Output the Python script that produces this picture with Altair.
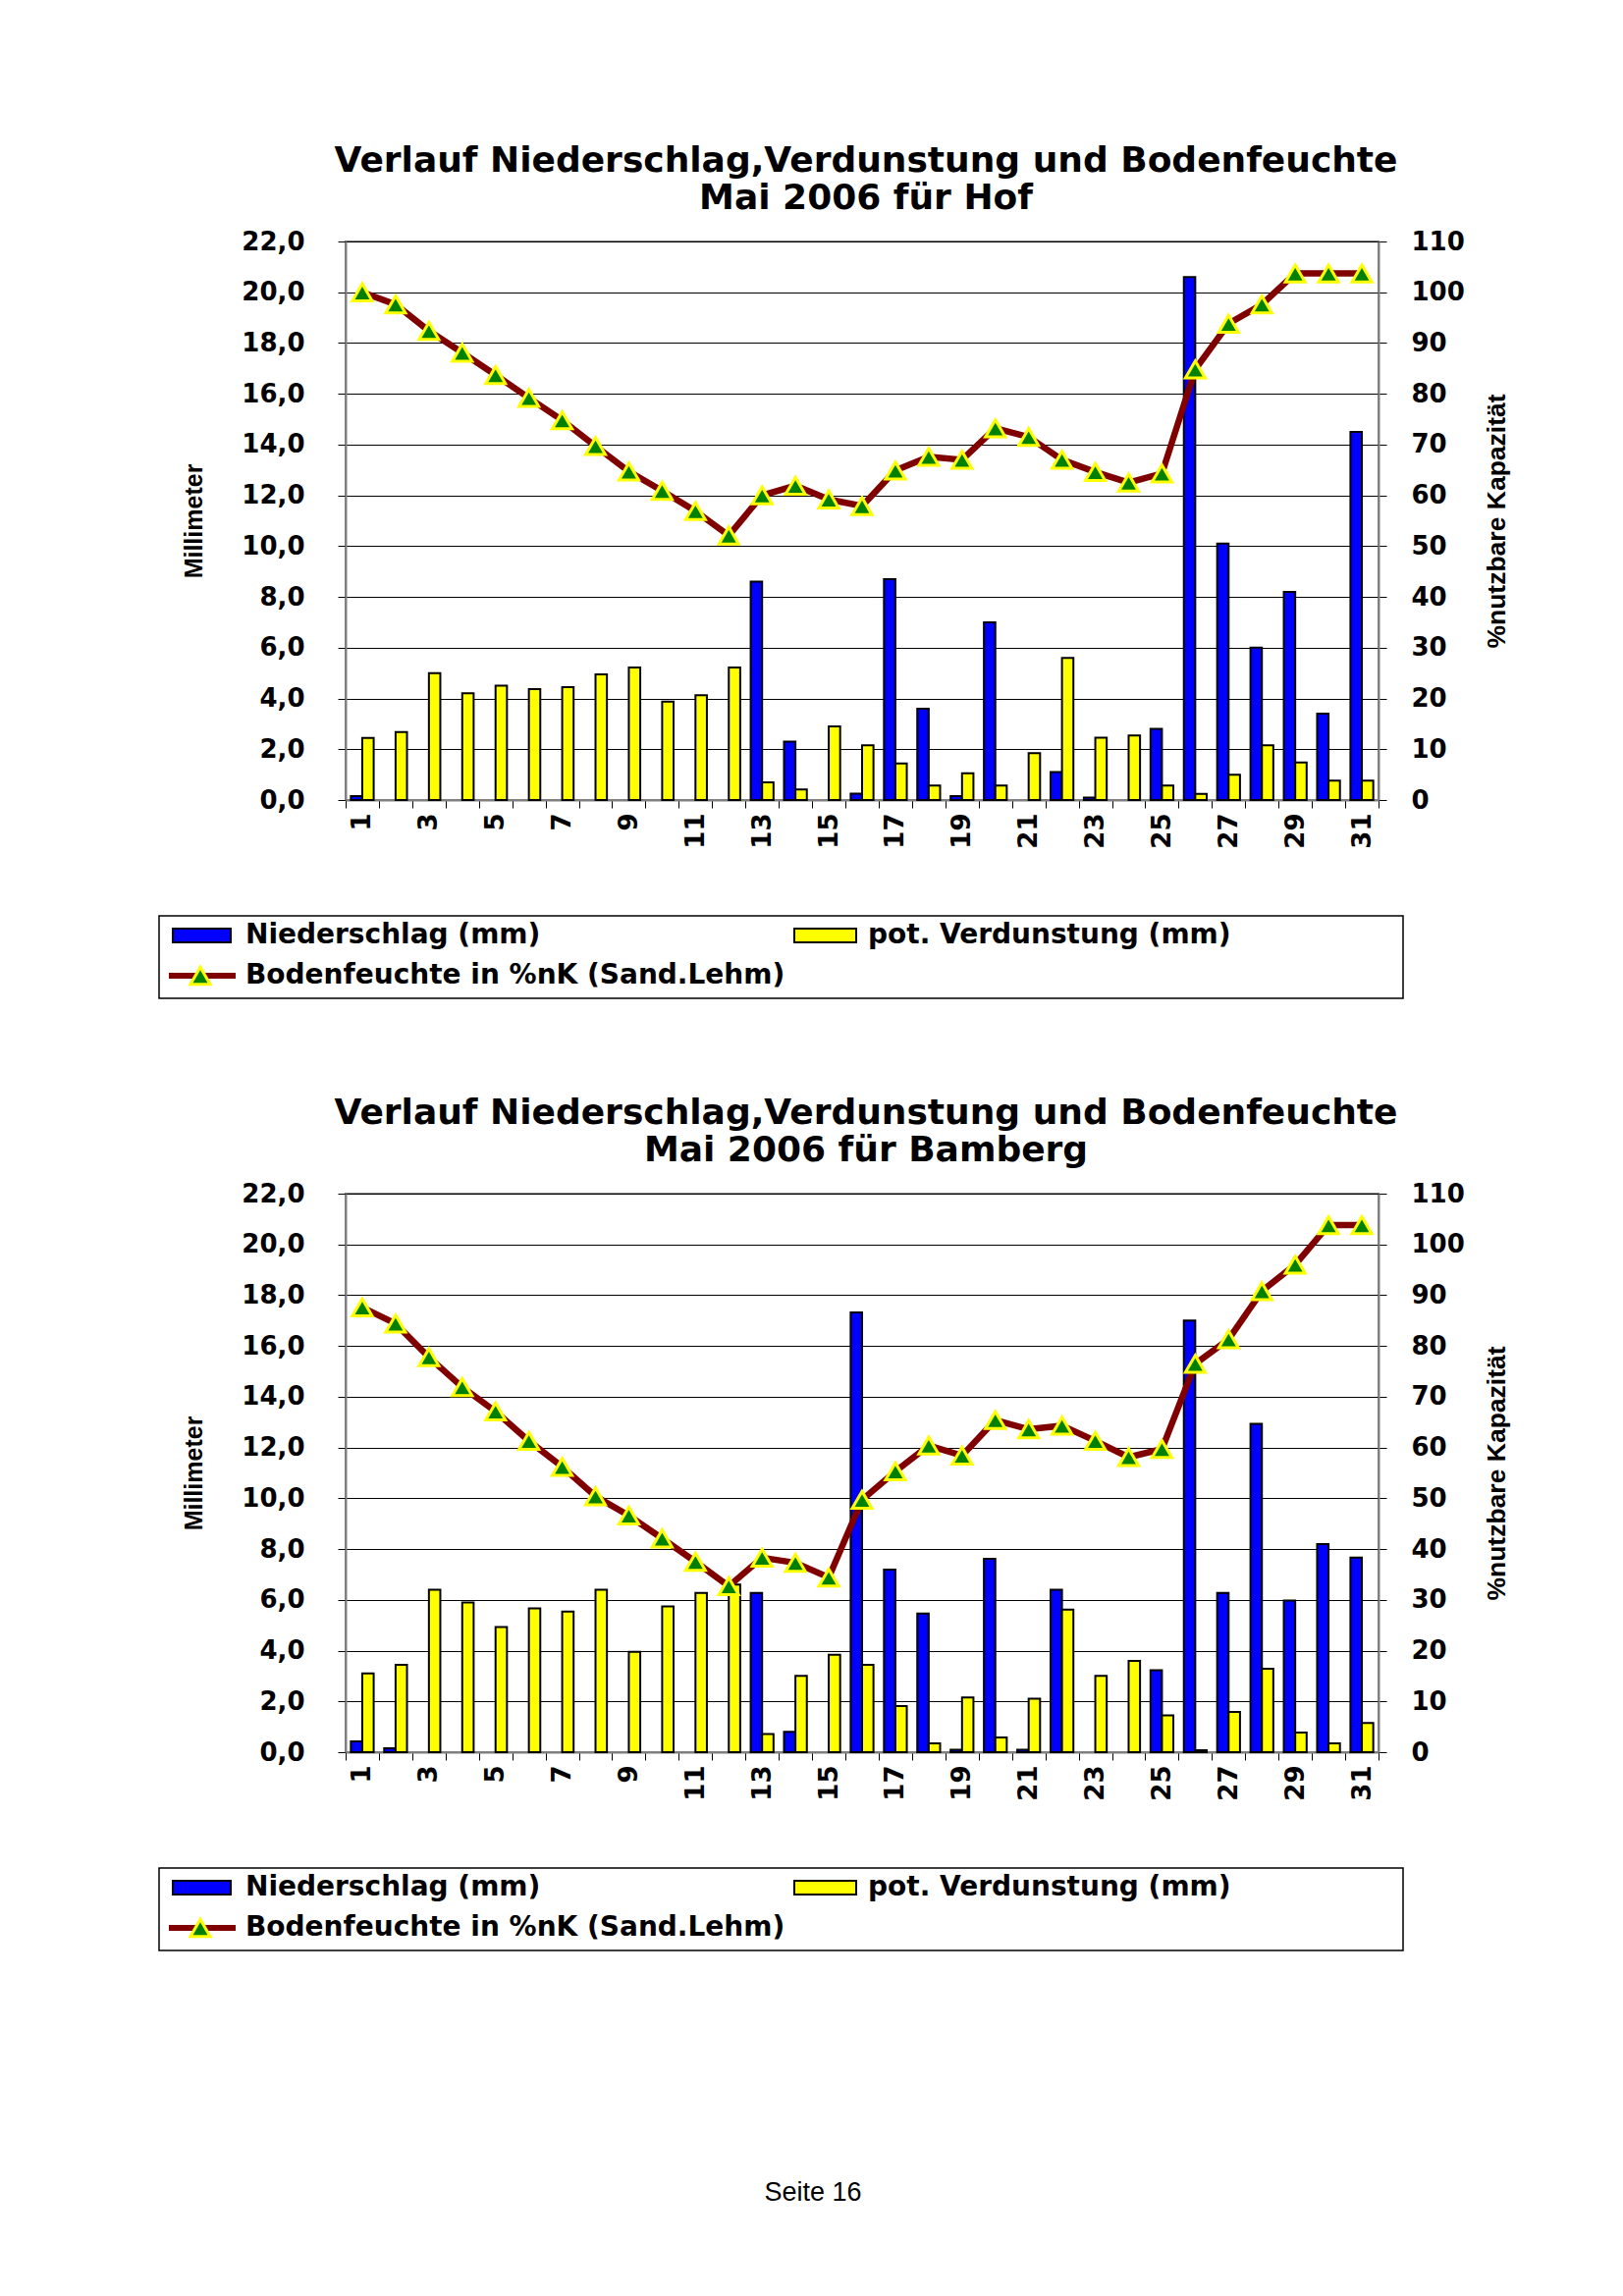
import altair as alt
import pandas as pd

days = list(range(1, 32))

hof_niederschlag = [0.15, 0, 0, 0, 0, 0, 0, 0, 0, 0, 0, 0, 8.6, 2.3, 0, 0.25,
                    8.7, 3.6, 0.15, 7.0, 0, 1.1, 0.1, 0, 2.8, 20.6, 10.1, 6.0, 8.2, 3.4, 14.5]
hof_verdunstung = [2.45, 2.68, 5.0, 4.2, 4.5, 4.37, 4.45, 4.95, 5.22, 3.88, 4.13, 5.22, 0.7, 0.42, 2.9, 2.16,
                   1.44, 0.57, 1.05, 0.57, 1.85, 5.6, 2.46, 2.54, 0.57, 0.24, 1.0, 2.16, 1.48, 0.76, 0.76]
hof_boden = [100, 97.6, 92.4, 88.1, 83.7, 79.2, 74.8, 69.7, 64.7, 60.9, 56.9, 52.1, 60.0, 61.9, 59.2, 57.9,
             64.9, 67.6, 67.0, 73.2, 71.5, 67.0, 64.6, 62.5, 64.3, 84.8, 93.8, 97.6, 103.7, 103.7, 103.7]

bam_niederschlag = [0.43, 0.15, 0, 0, 0, 0, 0, 0, 0, 0, 0, 0, 6.27, 0.8, 0, 17.32,
                    7.19, 5.46, 0.1, 7.62, 0.1, 6.4, 0, 0, 3.23, 17.0, 6.27, 12.93, 5.97, 8.2, 7.67]
bam_verdunstung = [3.1, 3.44, 6.4, 5.9, 4.93, 5.66, 5.54, 6.4, 3.95, 5.74, 6.27, 6.6, 0.72, 3.01, 3.84, 3.44,
                   1.82, 0.35, 2.16, 0.58, 2.11, 5.62, 3.01, 3.6, 1.45, 0.08, 1.59, 3.29, 0.77, 0.35, 1.15]
bam_boden = [87.6, 84.4, 77.8, 71.9, 67.1, 61.3, 56.2, 50.4, 46.6, 42.1, 37.5, 32.7, 38.3, 37.3, 34.4, 49.7,
             55.3, 60.4, 58.4, 65.4, 63.6, 64.3, 61.3, 58.1, 59.7, 76.5, 81.3, 90.8, 96.0, 103.8, 103.8]

series_names = ["Niederschlag (mm)", "pot. Verdunstung (mm)", "Bodenfeuchte in %nK (Sand.Lehm)"]
title_line1 = "Verlauf Niederschlag,Verdunstung und Bodenfeuchte"
stations = ["Mai 2006 für Hof", "Mai 2006 für Bamberg"]
footer_text = "Seite 16"

mm_ticks = list(range(0, 23, 2))
pct_ticks = list(range(0, 111, 10))

FONT = "DejaVu Sans"
TFONT = "Liberation Sans"
W, H = 1052, 569
BLUE, YELLOW, DARKRED, GREEN = "#0000FF", "#FFFF00", "#800000", "#008000"
TRI = dict(shape="triangle-up", filled=True, fill=GREEN, stroke=YELLOW, strokeWidth=3, size=400, opacity=1)
LY = 687  # legend box top, relative to plot top


def panel(nieder, verd, boden, subtitle, footer=None):
    bars_df = pd.DataFrame({
        "day": days * 2,
        "serie": [series_names[0]] * 31 + [series_names[1]] * 31,
        "mm": nieder + verd,
    })
    line_df = pd.DataFrame({"day": days, "pct": boden})

    x_enc = alt.X(
        "day:O",
        scale=alt.Scale(paddingInner=0, paddingOuter=0),
        axis=alt.Axis(
            title=None, labelAngle=270, tickBand="extent", tickSize=8, tickColor="black",
            labelPadding=5, domainColor="#808080", domainWidth=2,
            labelExpr="datum.value % 2 == 1 ? datum.label : ''",
            labelFontSize=26,
        ),
    )

    bars = alt.Chart(bars_df).transform_filter("datum.mm > 0").mark_bar(
        stroke="black", strokeWidth=2
    ).encode(
        x=x_enc,
        xOffset=alt.XOffset("serie:N", scale=alt.Scale(domain=series_names[:2], paddingInner=0, paddingOuter=0.46)),
        y=alt.Y(
            "mm:Q",
            scale=alt.Scale(domain=[0, 22], nice=False),
            axis=alt.Axis(
                values=mm_ticks, grid=True, gridColor="black", gridWidth=1,
                labelExpr="replace(format(datum.value, '.1f'), '.', ',')",
                tickSize=8, tickColor="black", labelPadding=34,
                domainColor="#808080", domainWidth=2,
                title="Millimeter", titleFont=TFONT, titleFontSize=25, titleAngle=270,
                titleX=-155, titleY=H / 2, titleAlign="center", titleBaseline="middle",
            ),
        ),
        color=alt.Color("serie:N", scale=alt.Scale(domain=series_names[:2], range=[BLUE, YELLOW]), legend=None),
    )

    y_pct = alt.Y(
        "pct:Q",
        scale=alt.Scale(domain=[0, 110], nice=False),
        axis=alt.Axis(
            orient="right", values=pct_ticks, grid=False, format="d",
            tickSize=8, tickColor="black", labelPadding=25,
            domainColor="#808080", domainWidth=2,
            title="%nutzbare Kapazität", titleFont=TFONT, titleFontSize=26.5, titleAngle=270,
            titleX=120, titleY=H / 2, titleAlign="center", titleBaseline="middle",
        ),
    )
    line = alt.Chart(line_df).mark_line(color=DARKRED, strokeWidth=6.5).encode(x=x_enc, y=y_pct)
    pts = alt.Chart(line_df).mark_point(**TRI).encode(x=x_enc, y=y_pct)
    soil = alt.layer(line, pts)

    # legend box (drawn below the plot area)
    one = pd.DataFrame({"k": [0]})
    box = alt.Chart(one).mark_rect(fill="white", stroke="black", strokeWidth=1.5).encode(
        x=alt.value(-190), x2=alt.value(W + 25), y=alt.value(LY), y2=alt.value(LY + 84))
    sw1 = alt.Chart(one).mark_rect(fill=BLUE, stroke="black", strokeWidth=2).encode(
        x=alt.value(-176), x2=alt.value(-117), y=alt.value(LY + 13), y2=alt.value(LY + 27))
    sw2 = alt.Chart(one).mark_rect(fill=YELLOW, stroke="black", strokeWidth=2).encode(
        x=alt.value(457), x2=alt.value(520), y=alt.value(LY + 13), y2=alt.value(LY + 27))
    sw3 = alt.Chart(one).mark_rule(color=DARKRED, strokeWidth=6).encode(
        x=alt.value(-180), x2=alt.value(-112), y=alt.value(LY + 61))
    sw3p = alt.Chart(one).mark_point(**TRI).encode(x=alt.value(-148), y=alt.value(LY + 61))
    lab_df = pd.DataFrame({"label": series_names})
    labs = []
    for i, (lx, ly) in enumerate([(-102, LY + 20), (532, LY + 20), (-102, LY + 61)]):
        labs.append(
            alt.Chart(lab_df).transform_filter(alt.datum.label == series_names[i]).mark_text(
                font=FONT, fontWeight="bold", fontSize=28, align="left", baseline="middle", color="black"
            ).encode(text="label:N", x=alt.value(lx), y=alt.value(ly))
        )
    extras = [box, sw1, sw2, sw3, sw3p] + labs
    if footer is not None:
        fdf = pd.DataFrame({"t": [footer]})
        extras.append(
            alt.Chart(fdf).mark_text(font=TFONT, fontSize=27, align="center", baseline="middle",
                                     color="black").encode(text="t:N", x=alt.value(476), y=alt.value(1018))
        )

    ch = alt.layer(bars, soil, *extras).resolve_scale(y="independent").properties(
        width=W, height=H,
        title=alt.TitleParams(
            text=[title_line1, subtitle], font=FONT, fontWeight="bold", fontSize=36, lineHeight=38,
            anchor="middle", frame="group", offset=12, color="black", dx=4,
        ),
    )
    return ch


top = panel(hof_niederschlag, hof_verdunstung, hof_boden, stations[0])
bottom = panel(bam_niederschlag, bam_verdunstung, bam_boden, stations[1], footer=footer_text)

chart = alt.vconcat(top, bottom, spacing=96).properties(
    padding={"left": 152, "top": 137, "right": 10, "bottom": 10},
    background="white",
).configure_view(stroke="#808080", strokeWidth=2).configure_axis(
    labelFont=FONT, labelFontWeight="bold", labelFontSize=26, labelColor="black",
    titleFont=FONT, titleFontWeight="bold", titleColor="black",
)

chart.save("out.html", embed_options={"renderer": "svg", "actions": False})
